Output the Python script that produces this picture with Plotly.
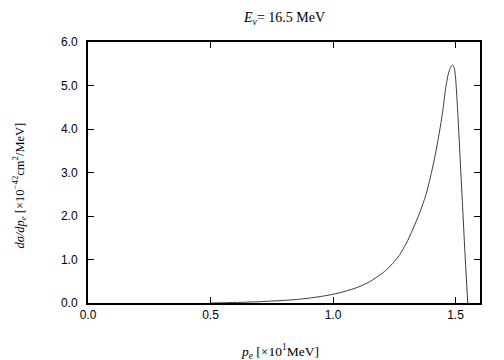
import plotly.graph_objects as go

p_e = [0.50, 0.55, 0.60, 0.65, 0.70, 0.75, 0.80, 0.85, 0.90, 0.95, 1.00, 1.05, 1.10,
       1.15, 1.20, 1.22, 1.25, 1.27, 1.30, 1.32, 1.35, 1.38, 1.40, 1.42, 1.44, 1.45,
       1.46, 1.47, 1.48, 1.488, 1.495, 1.50, 1.51, 1.52, 1.53, 1.54, 1.55]
dsigma = [0.00, 0.005, 0.012, 0.02, 0.03, 0.045, 0.06, 0.08, 0.11, 0.15, 0.20, 0.27, 0.36,
          0.49, 0.68, 0.77, 0.95, 1.09, 1.38, 1.62, 2.02, 2.50, 2.95, 3.48, 4.12, 4.50,
          4.95, 5.25, 5.42, 5.47, 5.40, 5.20, 4.30, 3.20, 2.10, 1.00, 0.00]

x_ticks = [0.0, 0.5, 1.0, 1.5]
x_ticklabels = ["0.0", "0.5", "1.0", "1.5"]
y_ticks = [0, 1, 2, 3, 4, 5, 6]
y_ticklabels = ["0.0", "1.0", "2.0", "3.0", "4.0", "5.0", "6.0"]

fig = go.Figure()
fig.add_trace(go.Scatter(x=p_e, y=dsigma, mode="lines",
                         line=dict(color="#3a3a3a", width=1, shape="spline", smoothing=0.6),
                         showlegend=False))

axis_common = dict(showgrid=False, zeroline=False, showline=True, linecolor="black",
                   linewidth=2, mirror="ticks", ticks="inside", ticklen=6,
                   tickcolor="black", tickwidth=1,
                   tickfont=dict(family="Liberation Sans, Arial", size=12, color="black"))

fig.update_xaxes(range=[0, 1.6], tickvals=x_ticks, ticktext=x_ticklabels, **axis_common)
fig.update_yaxes(range=[0, 6], tickvals=y_ticks, ticktext=y_ticklabels,
                 ticklabelstandoff=6, **axis_common)

def serif(size):
    return dict(family="Liberation Serif, Times New Roman", size=size, color="black")

fig.add_annotation(text="<i>E<sub>ν</sub></i>= 16.5 MeV", x=0.5, y=1.0, xref="paper",
                   yref="paper", yshift=24, showarrow=False, font=serif(14),
                   xanchor="center", yanchor="middle")
fig.add_annotation(text="<i>p<sub>e</sub></i> [×10<sup>1</sup>MeV]", x=0.49, y=0,
                   xref="paper", yref="paper", yshift=-48, showarrow=False, font=serif(13.5),
                   xanchor="center", yanchor="middle")
fig.add_annotation(text="<i>dσ/dp<sub>e</sub></i> [×10<sup>−42</sup>cm<sup>2</sup>/MeV]",
                   x=0, y=0.45, xref="paper", yref="paper", xshift=-69, textangle=-90,
                   showarrow=False, font=serif(12.5), xanchor="center", yanchor="middle")

# page body has an 8px default margin, so the figure is sized to fit the 504x360 window
fig.update_layout(width=496, height=352, margin=dict(l=80, r=24, t=34, b=57),
                  paper_bgcolor="white", plot_bgcolor="white")
fig.write_html("out.html")
